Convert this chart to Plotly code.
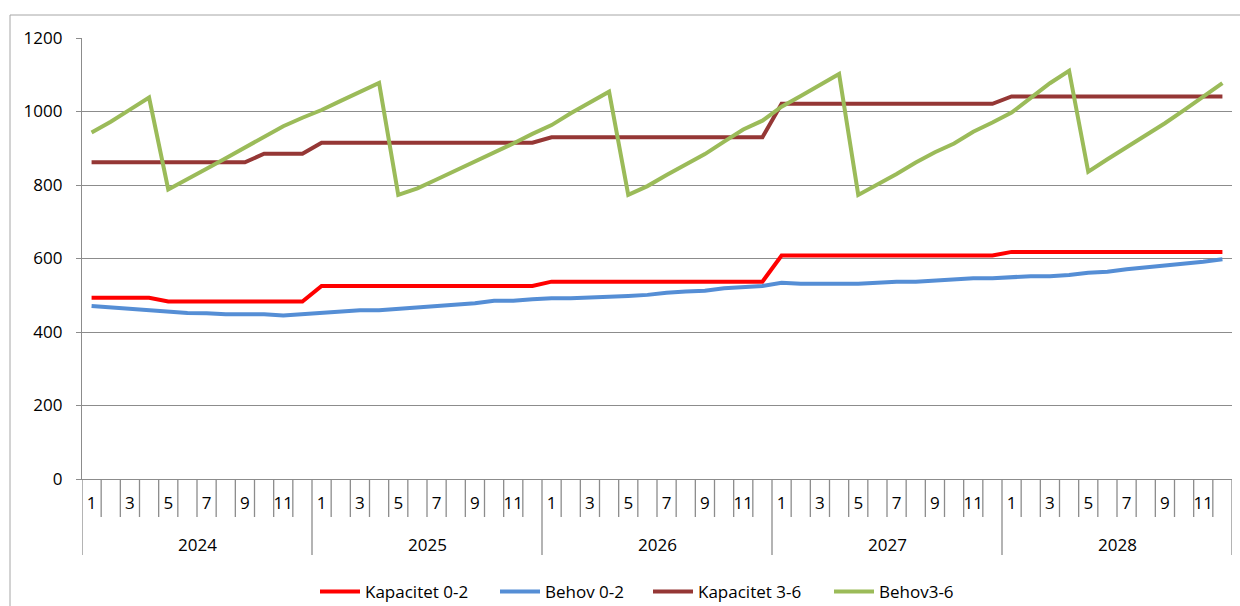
import plotly.graph_objects as go

# ---------------- data ----------------
years = [2024, 2025, 2026, 2027, 2028]
months = [1, 2, 3, 4, 5, 6, 7, 8, 9, 10, 11, 12]

kapacitet_0_2 = [
    493, 493, 493, 493, 483, 483, 483, 483, 483, 483, 483, 483,
    525, 525, 525, 525, 525, 525, 525, 525, 525, 525, 525, 525,
    537, 537, 537, 537, 537, 537, 537, 537, 537, 537, 537, 537,
    608, 608, 608, 608, 608, 608, 608, 608, 608, 608, 608, 608,
    618, 618, 618, 618, 618, 618, 618, 618, 618, 618, 618, 618,
]
behov_0_2 = [
    471, 467, 462, 459, 455, 452, 451, 448, 448, 448, 445, 448,
    453, 455, 459, 459, 463, 465, 469, 474, 478, 485, 485, 489,
    492, 492, 494, 494, 498, 501, 507, 510, 512, 519, 522, 525,
    534, 531, 531, 531, 531, 534, 537, 537, 540, 543, 546, 546,
    549, 552, 552, 555, 561, 564, 571, 576, 580, 585, 591, 598,
]
kapacitet_3_6 = [
    862, 862, 862, 862, 862, 862, 862, 862, 862, 885, 885, 885,
    915, 915, 915, 915, 915, 915, 915, 915, 915, 915, 915, 915,
    930, 930, 930, 930, 930, 930, 930, 930, 930, 930, 930, 930,
    1021, 1021, 1021, 1021, 1021, 1021, 1021, 1021, 1021, 1021, 1021, 1021,
    1041, 1041, 1041, 1041, 1041, 1041, 1041, 1041, 1041, 1041, 1041, 1041,
]
behov_3_6 = [
    943, 972, 1005, 1038, 788, 815, 844, 873, 902, 931, 960, 983,
    1004, 1029, 1054, 1078, 773, 791, 815, 839, 863, 886, 913, 939,
    963, 995, 1024, 1054, 773, 797, 827, 857, 884, 918, 951, 975,
    1013, 1042, 1072, 1102, 773, 800, 830, 861, 889, 913, 945, 970,
    997, 1037, 1077, 1111, 836, 870, 902, 936, 968, 1004, 1042, 1077,
]

series_names = ["Kapacitet 0-2", "Behov 0-2", "Kapacitet 3-6", "Behov3-6"]
series_values = [kapacitet_0_2, behov_0_2, kapacitet_3_6, behov_3_6]
series_colors = ["#FF0000", "#558ED5", "#953735", "#9BBB59"]

# ---------------- layout constants ----------------
W, H = 1240, 606
ML, MR, MT, MB = 82, 8, 38, 127
PW, PH = W - ML - MR, H - MT - MB
GRID = "#8C8C8C"
FONT = "Open Sans"

n = len(years) * len(months)
xs = list(range(n))

fig = go.Figure()
legend_ids = ["legend", "legend2", "legend3", "legend4"]
for name, vals, color, lg in zip(series_names, series_values, series_colors, legend_ids):
    fig.add_trace(go.Scatter(
        x=xs, y=vals, mode="lines", name=name,
        line=dict(color=color, width=4),
        legend=lg, hoverinfo="x+y+name",
    ))

# category separators (month ticks and year dividers)
for b in range(n + 1):
    is_year = (b % len(months) == 0)
    fig.add_shape(
        type="line", xref="x", yref="paper", ysizemode="pixel", yanchor=0,
        x0=b - 0.5, x1=b - 0.5, y0=0, y1=-(76 if is_year else 38),
        line=dict(color=GRID, width=1.3), layer="above",
    )

# year labels
for k, yr in enumerate(years):
    fig.add_annotation(
        x=k * len(months) + (len(months) - 1) / 2, xref="x",
        y=0, yref="paper", yshift=-65, yanchor="middle",
        text=str(yr), showarrow=False,
        font=dict(family=FONT, size=17, color="#000000"),
    )

# month tick labels (odd months only, as in the original)
tickvals, ticktext = [], []
for k, yr in enumerate(years):
    for j, m in enumerate(months):
        if m % 2 == 1:
            tickvals.append(k * len(months) + j)
            ticktext.append(str(m))

# outer chart border (left and top edges visible)
bx = (10 - ML) / PW
by_top = 1 + (MT - 15) / PH
fig.add_shape(type="line", xref="paper", yref="paper",
              x0=bx, x1=bx, y0=-(MB + 5) / PH, y1=by_top,
              line=dict(color="#A6A6A6", width=1))
fig.add_shape(type="line", xref="paper", yref="paper",
              x0=bx, x1=1 + (MR + 5) / PW, y0=by_top, y1=by_top,
              line=dict(color="#A6A6A6", width=1))

legend_text_starts = [365, 545, 698, 879]
legend_common = dict(
    orientation="h", xref="container", yref="container",
    yanchor="middle", xanchor="left", y=1 - 592 / H,
    font=dict(family=FONT, size=17, color="#000000"),
    bgcolor="rgba(0,0,0,0)", itemclick=False, itemdoubleclick=False,
    itemwidth=40,
)
legends = {}
for lg, ts in zip(legend_ids, legend_text_starts):
    legends[lg] = dict(legend_common, x=(ts - 50) / W)

fig.update_layout(
    width=W, height=H,
    margin=dict(l=ML, r=MR, t=MT, b=MB, pad=0),
    paper_bgcolor="#FFFFFF", plot_bgcolor="#FFFFFF",
    font=dict(family=FONT, size=17, color="#000000"),
    showlegend=True,
    xaxis=dict(
        range=[-0.5, n - 0.5], tickmode="array",
        tickvals=tickvals, ticktext=ticktext,
        ticks="", showgrid=False, zeroline=False,
        showline=True, linecolor=GRID, linewidth=1.3,
        tickfont=dict(family=FONT, size=17, color="#000000"),
        ticklabelstandoff=8,
        fixedrange=True,
    ),
    yaxis=dict(
        range=[0, 1200], dtick=200, tick0=0,
        showgrid=True, gridcolor=GRID, gridwidth=1.3,
        zeroline=False, showline=True, linecolor=GRID, linewidth=1.3,
        ticks="outside", ticklen=5, tickcolor=GRID, tickwidth=1.3,
        tickfont=dict(family=FONT, size=17, color="#000000"),
        ticklabelstandoff=10,
        fixedrange=True,
    ),
    **legends,
)

fig.write_html(
    "out.html",
    config={"displayModeBar": False},
    post_script="document.body.style.margin='0px';document.body.style.padding='0px';",
)
